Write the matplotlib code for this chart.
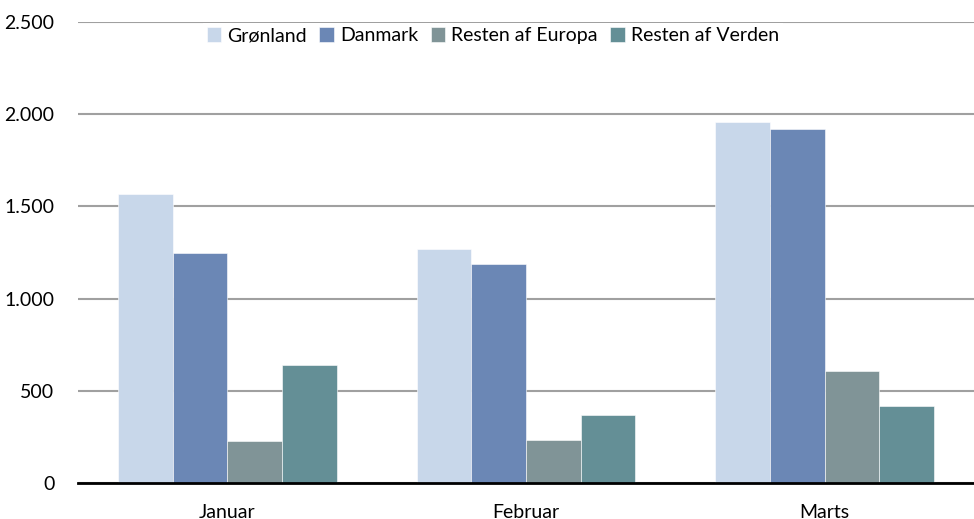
import matplotlib
matplotlib.use("Agg")
import matplotlib.pyplot as plt
import numpy as np

months = ["Januar", "Februar", "Marts"]
series_names = ["Grønland", "Danmark", "Resten af Europa", "Resten af Verden"]
groenland = [1565, 1270, 1960]
danmark = [1245, 1190, 1920]
europa = [230, 235, 605]
verden = [640, 370, 415]
yticks = [0, 500, 1000, 1500, 2000, 2500]
ytick_labels = ["0", "500", "1.000", "1.500", "2.000", "2.500"]

colors = ["#C8D7EA", "#6B87B5", "#809497", "#648F96"]

plt.rcParams['font.family'] = ['Lato', 'DejaVu Sans']
FS = 14

fig = plt.figure(figsize=(9.74, 5.19), dpi=100)
ax = fig.add_axes([0.080, 0.0694, 0.920, 0.8882])

data = [groenland, danmark, europa, verden]
x = np.arange(len(months))
w = 0.183
for i, (vals, name, c) in enumerate(zip(data, series_names, colors)):
    ax.bar(x + (i - 1.5) * w, vals, width=w, color=c, label=name, zorder=3,
           edgecolor="white", linewidth=0.4)

ax.set_xlim(-0.5, 2.5)
ax.set_ylim(0, 2500)
ax.set_yticks(yticks)
ax.set_yticklabels(ytick_labels, fontsize=FS)
ax.set_xticks(x)
ax.set_xticklabels(months, fontsize=FS)
ax.tick_params(axis="both", length=0)
ax.tick_params(axis="y", pad=17)
ax.tick_params(axis="x", pad=15)
ax.yaxis.grid(True, color="#A0A0A0", linewidth=1.5, zorder=0)
ax.set_axisbelow(True)
for s in ["left", "right", "top"]:
    ax.spines[s].set_visible(False)
ax.spines["bottom"].set_color("black")
ax.spines["bottom"].set_linewidth(2)
ax.spines["bottom"].set_zorder(4)

leg = ax.legend(loc="upper center", bbox_to_anchor=(0.463, 1.018), ncol=4, frameon=True,
                fontsize=FS, handlelength=0.75, handleheight=0.75, handletextpad=0.3,
                columnspacing=0.65, borderpad=0.2, fancybox=False)
leg.get_frame().set_facecolor("white")
leg.get_frame().set_edgecolor("none")
leg.get_frame().set_alpha(1)
leg.set_zorder(5)

fig.savefig("out.png", dpi=100)
